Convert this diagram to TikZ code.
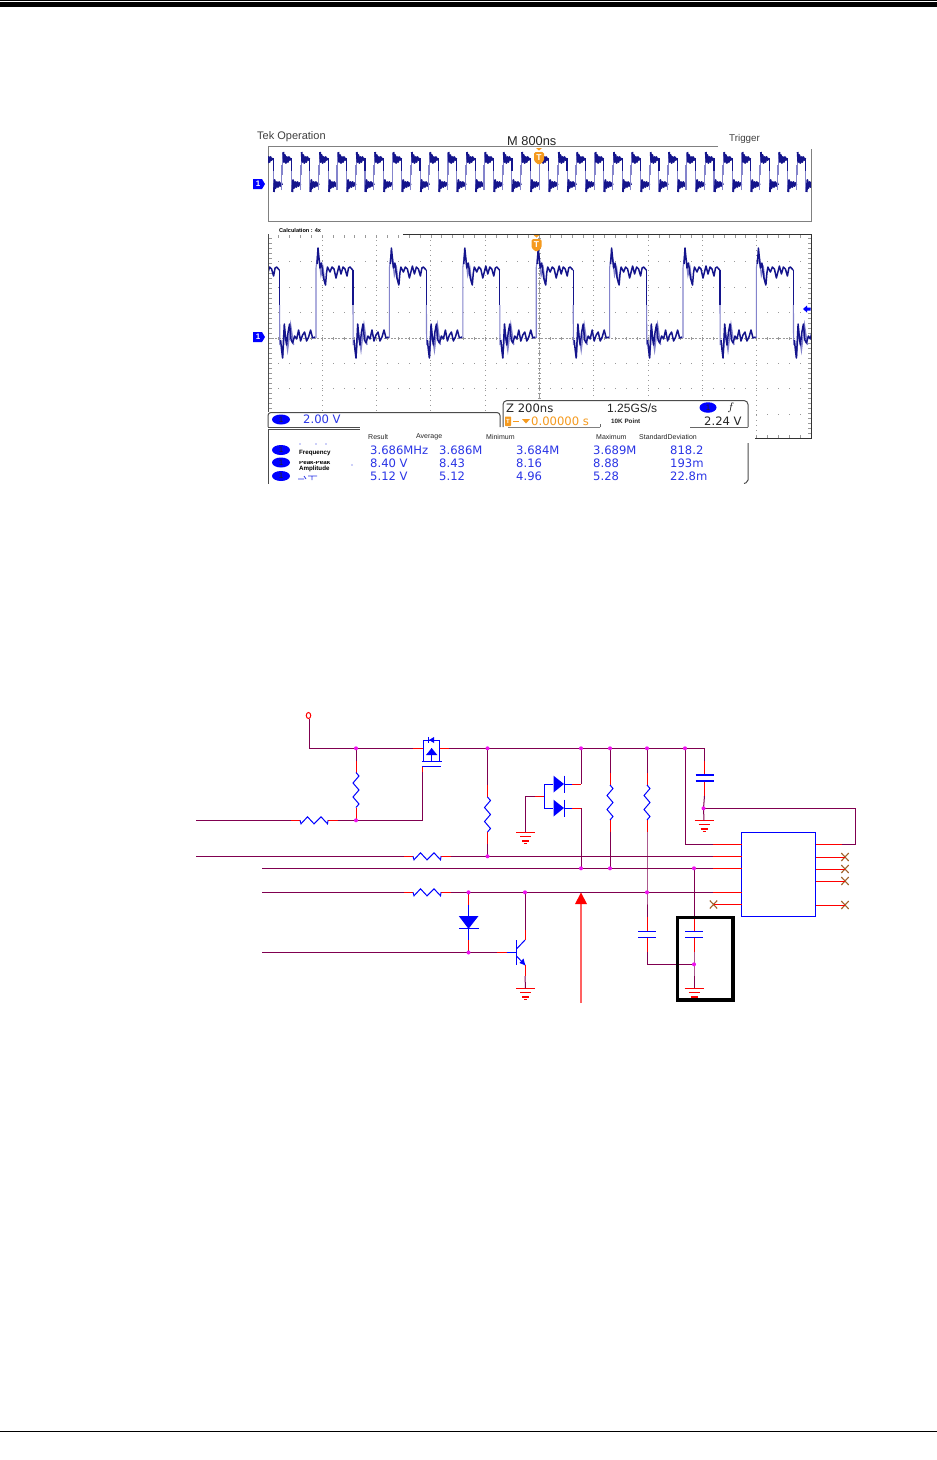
\documentclass[tikz,border=0pt]{standalone}
\usepackage{fontspec}
\setmainfont{Liberation Sans}
\newfontfamily\tekf{DejaVu Sans}
\usetikzlibrary{shapes.geometric}
\definecolor{wirec}{HTML}{800050}
\definecolor{compc}{HTML}{0000FF}
\definecolor{navyw}{HTML}{14148C}
\definecolor{lightw}{HTML}{8484CC}
\definecolor{tekblue}{HTML}{2A35E6}
\definecolor{tekor}{HTML}{F59A1E}
\definecolor{gridc}{HTML}{999999}
\definecolor{xc}{HTML}{A0622A}
\definecolor{magj}{HTML}{EE10EE}
\tikzset{
 wire/.style={draw=wirec,line width=1pt},
 stub/.style={draw=red,line width=1pt},
 comp/.style={draw=compc,line width=1pt},
 darkw/.style={draw=navyw,line width=1.9pt,line join=round},
 edgew/.style={draw=lightw,line width=1.1pt},
 frameg/.style={draw=gray,line width=1pt},
 framed/.style={draw=black!70,line width=1pt},
 lab/.style={inner sep=0pt,anchor=west,text=black!75},
 valtxt/.style={inner sep=0pt,anchor=west,text=tekblue,font=\tekf\fontsize{11.6}{12}\selectfont},
 smalltxt/.style={inner sep=0pt,anchor=west,text=black,font=\bfseries\fontsize{6.2}{7}\selectfont},
 headtxt/.style={inner sep=0pt,anchor=west,text=black!85,font=\fontsize{7}{8}\selectfont},
 oval/.style={ellipse,fill=compc,draw=none,minimum width=18pt,minimum height=10pt,inner sep=0pt,text=black!85,font=\fontsize{8}{8}\selectfont},
}
\newcommand{\ckJ}[3]{\coordinate (#1) at (#2,#3);}
\newcommand{\ckDot}[1]{\fill[magj] (#1) circle (2pt);}
\newcommand{\ckRH}[3]{%
 \coordinate (#1) at (#2,#3);
 \coordinate (#1-l) at ([xshift=-23.5pt]#1);
 \coordinate (#1-r) at ([xshift=23.5pt]#1);
 \draw[stub] (#1-l) -- ([xshift=-14pt]#1);
 \draw[stub] ([xshift=14pt]#1) -- (#1-r);
 \draw[comp,shift={(#1)}] (-14,0) -- (-13,3.5) -- (-6.5,-3.5) -- (0,3.5) -- (7,-3.5) -- (13.5,3.5) -- (14,0);}
\newcommand{\ckRV}[3]{%
 \coordinate (#1) at (#2,#3);
 \coordinate (#1-t) at ([yshift=29.5pt]#1);
 \coordinate (#1-b) at ([yshift=-29.5pt]#1);
 \draw[stub] (#1-t) -- ([yshift=17.5pt]#1);
 \draw[stub] ([yshift=-17.5pt]#1) -- (#1-b);
 \draw[comp,shift={(#1)}] (0,-17.5) -- (3,-14) -- (-3,-7) -- (3,0) -- (-3,7) -- (3,14) -- (0,17.5);}
\newcommand{\ckC}[4]{%
 \coordinate (#1) at (#2,#3);
 \coordinate (#1-t) at ([yshift=17pt]#1);
 \coordinate (#1-b) at ([yshift=-18pt]#1);
 \draw[stub] (#1-t) -- ([yshift=3pt]#1);
 \draw[stub] ([yshift=-3pt]#1) -- (#1-b);
 \draw[compc,line width=#4] ([xshift=-9pt,yshift=3pt]#1) -- ([xshift=9pt,yshift=3pt]#1);
 \draw[compc,line width=#4] ([xshift=-9pt,yshift=-3pt]#1) -- ([xshift=9pt,yshift=-3pt]#1);}
\newcommand{\ckG}[3]{%
 \coordinate (#1) at (#2,#3);
 \begin{scope}[shift={(#1)}]
 \draw[stub] (-9.5,0) -- (9.5,0);
 \draw[stub] (-5.5,4) -- (5.5,4);
 \draw[red,line width=2pt] (-3.5,8.5) -- (3.5,8.5);
 \draw[red,line width=1pt] (-1.5,11.5) -- (1.5,11.5);
 \end{scope}}
\newcommand{\ckX}[3]{%
 \coordinate (#1) at (#2,#3);
 \draw[xc,line width=1.1pt,shift={(#1)}] (-3.7,-4) -- (3.7,4) (-3.7,4) -- (3.7,-4);}
\newcommand{\ckTmark}[3]{%
 \fill[tekor] (#2-3,#3-10) -- (#2+3,#3-10) -- (#2,#3-7.5) -- cycle;
 \fill[tekor,rounded corners=1.5pt] (#2-5,#3-6) -- (#2+5,#3-6) -- (#2+5,#3+3) -- (#2,#3+7) -- (#2-5,#3+3) -- cycle;
 \node[inner sep=0pt,text=white,font=\bfseries\fontsize{8.5}{9}\selectfont] (#1) at (#2,#3) {T};}
\newcommand{\ckChan}[3]{%
 \fill[compc] (#2-6,#3-5) -- (#2+3,#3-5) -- (#2+6,#3) -- (#2+3,#3+5) -- (#2-6,#3+5) -- cycle;
 \node[inner sep=0pt,text=white,font=\bfseries\fontsize{8}{8}\selectfont] (#1) at (#2-1,#3) {1};}
\begin{document}
\begin{tikzpicture}[x=1pt,y=-1pt]
\useasboundingbox (0,0) rectangle (937,1460);
\fill[white] (0,0) rectangle (937,1460);
% page rules
\fill[black] (0,0) rectangle (937,1);
\fill[black] (0,2) rectangle (937,7);
\fill[black] (0,1430.6) rectangle (937,1431.8);

%==== scope top panel
\node[lab,font=\fontsize{11}{12}\selectfont] (tekop) at (257,137) {Tek Operation};
\node[lab,font=\fontsize{12.8}{13}\selectfont,text=black!85] (mtime) at (507,141.5) {M 800ns};
\node[lab,font=\fontsize{9.8}{10}\selectfont] (trigl) at (729,139) {Trigger};
\draw[frameg] (718,146.5) -- (268,146.5) -- (268,221) -- (811,221) -- (811,149);
\begin{scope}
\clip (268,146) rectangle (811,221);
\foreach \k in {-1,...,29}{
 \begin{scope}[xshift=282.7pt+\k*18.37pt]
 \draw[edgew] (-.8,190) -- (-.8,165);
 \draw[edgew] (0,175) -- (0,153);
 \draw[edgew] (8.8,165) -- (8.8,192);
 \draw[darkw] (0.6,152) -- (1.2,162) -- (2.2,155) -- (3.2,163) -- (4.2,157) -- (5.2,162) -- (6.2,157) -- (7.2,160) -- (8.3,158);
 \draw[navyw,line width=1.2pt] (8.8,158) -- (8.8,171);
 \draw[darkw] (9.6,192) -- (10.3,180) -- (11.3,188) -- (12.5,182) -- (13.6,187) -- (14.8,182) -- (15.8,186) -- (17,183) -- (17.6,185);
 \end{scope}}
\end{scope}

%==== lower panel grid
\foreach \k in {1,...,9}{
 \foreach \j in {0,...,39}{
  \fill[gridc] (268+\k*54.3-.5,240+\j*5-.5) rectangle +(1,1);}}
\foreach \r in {-3,...,3}{
 \foreach \k in {0,...,50}{
  \fill[gridc] (268+\k*10.86-.5,338+\r*25.4-.5) rectangle +(1,1);}}
\foreach \j in {0,...,40}{
 \fill[gridc] (269,238+\j*5-.4) rectangle +(2.5,.8);
 \fill[gridc] (807.5,238+\j*5-.4) rectangle +(3,.8);
 \fill[gridc] (537.5,238+\j*5-.4) rectangle +(3,.8);}
\foreach \k in {0,...,50}{
 \fill[gridc] (268+\k*10.86-.4,235) rectangle +(.8,3);
 \fill[gridc] (268+\k*10.86-.4,336.5) rectangle +(.8,3);
 \fill[gridc] (268+\k*10.86-.4,435) rectangle +(.8,3);}
\draw[gridc,line width=.6pt,dash pattern=on 2pt off 1.5pt] (268,338) -- (811,338);
\draw[gridc,line width=.6pt,dash pattern=on 2pt off 1.5pt] (539,235) -- (539,400);

%==== lower panel trace
\begin{scope}
\clip (268,235) rectangle (811,400);
\foreach \k in {-1,...,6}{
 \begin{scope}[xshift=316pt+\k*73.4pt]
 \draw[edgew] (0,338) -- (0,268) -- (1.5,255);
 \draw[edgew,line width=1.4pt] (3,258) -- (5,275) -- (7,268) -- (9,284);
 \draw[draw=navyw,line width=1.5pt,line join=round] (1,264) -- (2,248) -- (3,258) -- (4,268) -- (5.5,263) -- (7.5,278) -- (9.5,285) -- (10.5,273) -- (11.5,267) -- (14,272) -- (16,267) -- (18,269) -- (20,278) -- (21.5,272) -- (23,266) -- (25,274) -- (27,267) -- (29,269) -- (31,276) -- (32.5,268) -- (34,267) -- (36.7,270);
 \draw[navyw,line width=1.3pt] (37,270) -- (37,305);
 \draw[edgew] (37,305) -- (37.2,345);
 \draw[edgew,line width=1.4pt] (40,358) -- (42,330) -- (45,350) -- (48,325) -- (51,345);
 \draw[draw=navyw,line width=1.5pt,line join=round] (38,340) -- (39,350) -- (40,358) -- (41,338) -- (41.7,324) -- (43,338) -- (44,345) -- (45.5,332) -- (47,324) -- (48.5,340) -- (50,343) -- (52,336) -- (54,339) -- (56,330) -- (58,341) -- (60,335) -- (62,332) -- (64,341) -- (66,337) -- (68,330) -- (70,338) -- (72.6,337);
 \end{scope}}
\end{scope}

% masks
\fill[white] (262,412) rectangle (755,492);
\fill[white] (503,400) rectangle (755,412);
\fill[white] (268.5,222) rectangle (403,234);
% lower panel frame
\draw[framed] (268,234) -- (268,412);
\draw[draw=black!80,line width=1pt] (403,234.5) -- (811,234.5) -- (811,438.5) -- (755,438.5);
\node[smalltxt,font=\bfseries\fontsize{5.6}{6}\selectfont] (calc) at (279,230) {Calculation : 4x};

% markers
\ckTmark{tmarkA}{539}{158}
\ckTmark{tmarkB}{536.5}{245}
\ckChan{chA}{259}{184}
\ckChan{chB}{259}{337}
\fill[compc] (803,309) -- (807,305.5) -- (807,307.5) -- (810.5,307.5) -- (810.5,310.5) -- (807,310.5) -- (807,312.5) -- cycle;

% status box
\draw[draw=black!70,line width=1pt,rounded corners=3pt] (268,427) -- (268,412.5) -- (500,412.5) -- (500,427);
\draw[draw=black!70,line width=.8pt] (268,427.2) -- (360,427.2);
\draw[draw=black!70,line width=.8pt] (268,429) -- (360,429);
\node[oval] (ovalS) at (281,419.5) {1};
\node[valtxt] (volts) at (303,419.5) {2.00 V};

% timebase box
\draw[draw=black!70,line width=1pt,rounded corners=4pt] (503,427) -- (503,400.5) -- (748,400.5) -- (748,427);
\draw[draw=gray,line width=.8pt] (508,427.3) -- (600,427.3);
\draw[draw=black!60,line width=.8pt] (600,427.3) -- (600,424);
\draw[draw=black!60,line width=.8pt] (690,427.3) -- (748,427.3);
\node[valtxt,text=black!85] (zoomt) at (506,408) {Z 200ns};
\node[valtxt,text=black!85,font=\fontsize{12}{12}\selectfont] (rate) at (607,408) {1.25GS/s};
\node[oval,minimum width=17pt,minimum height=10.5pt] (ovalT) at (708,407.5) {1};
\node[inner sep=0pt,font=\bfseries\itshape\fontsize{11}{12}\selectfont] (slope) at (731,407.5) {$f$};
\fill[tekor,rounded corners=.7pt] (505,416.5) rectangle (511,426);
\node[inner sep=0pt,text=white,font=\bfseries\fontsize{6}{6}\selectfont] (tsmall) at (508,421) {T};
\draw[tekor,line width=.8pt] (513,421) -- (519,421);
\fill[tekor] (522,419) -- (530,419) -- (526,423.5) -- cycle;
\node[valtxt,text=tekor] (tzero) at (531,421) {0.00000 s};
\node[headtxt,font=\bfseries\fontsize{6.3}{7}\selectfont] (points) at (611,421) {10K Point};
\node[valtxt,text=black!85] (level) at (704,421) {2.24 V};

% measurement box
\draw[draw=black!70,line width=1pt,rounded corners=3pt] (268,429) -- (268,483.5);
\draw[draw=black!70,line width=1pt,rounded corners=2pt] (748,443) -- (748,482) -- (744,483.5);
\node[headtxt] (hresult) at (368,436.5) {Result};
\node[headtxt] (havg) at (416,436.5) {Average};
\node[headtxt] (hmin) at (486,436.5) {Minimum};
\node[headtxt] (hmax) at (596,436.5) {Maximum};
\node[headtxt] (hstd) at (639,436.5) {StandardDeviation};
\node[oval] (ovalA) at (281,450) {1};
\node[oval] (ovalB) at (281,462.5) {1};
\node[oval] (ovalC) at (281,476) {1};
\node[smalltxt] (mfreq) at (299,453.5) {Frequency};
\node[smalltxt] (mpp) at (299,462) {Peak-Peak};
\fill[white] (296,455.8) rectangle (340,461);
\node[smalltxt] (mamp) at (299,468.5) {Amplitude};
\fill[tekblue] (300,444) circle (.6pt) (316,444) circle (.6pt) (326,444) circle (.6pt) (352,465) circle (.6pt);
\draw[tekblue,line width=.7pt] (298,479) -- (304,479) (304,476) -- (306,479) (308,476) -- (317,476) (312,476) -- (312,480);
\foreach \nm/\xx/\tx in {a/370/3.686MHz,b/439/3.686M,c/516/3.684M,d/593/3.689M,e/670/818.2}{
 \node[valtxt] (va\nm) at (\xx,450) {\tx};}
\foreach \nm/\xx/\tx in {a/370/8.40 V,b/439/8.43,c/516/8.16,d/593/8.88,e/670/193m}{
 \node[valtxt] (vb\nm) at (\xx,463) {\tx};}
\foreach \nm/\xx/\tx in {a/370/5.12 V,b/439/5.12,c/516/4.96,d/593/5.28,e/670/22.8m}{
 \node[valtxt] (vc\nm) at (\xx,476.5) {\tx};}
\fill[white] (362,482) rectangle (742,490);

%==== circuit: named points
\ckJ{term}{309}{719}
\ckJ{railA}{309}{748.3}
\ckJ{jA}{356}{748.3}
\ckJ{jB}{487.5}{748.3}
\ckJ{jC}{581}{748.3}
\ckJ{jD}{610}{748.3}
\ckJ{jE}{647}{748.3}
\ckJ{jF}{685}{748.3}
\ckJ{railEnd}{704.5}{748.3}
\ckJ{jG}{356}{820.3}
\ckJ{gateC}{422.3}{820.3}
\ckJ{gateT}{422.3}{772}
\ckJ{gatePin}{422.3}{766.5}
\ckJ{lineAs}{196}{820.3}
\ckJ{lineBs}{196}{856.3}
\ckJ{lineCs}{262}{868.3}
\ckJ{lineDs}{262}{892.3}
\ckJ{lineEs}{262}{952.5}
\ckJ{jH}{487.5}{856.3}
\ckJ{jI}{581}{868.3}
\ckJ{jK}{610}{868.3}
\ckJ{jL}{694}{868.3}
\ckJ{jM}{468.5}{892.3}
\ckJ{jN}{525}{892.3}
\ckJ{jO}{647}{892.3}
\ckJ{jP}{468.5}{952.5}
\ckJ{jQ}{694}{964.3}
\ckJ{jR}{703.5}{808.3}
\ckJ{capbend}{647}{964.3}
\ckJ{fbA}{855}{808.3}
\ckJ{fbB}{855}{844.3}
\ckJ{vddB}{685}{844.3}

% resistors
\ckRH{r1}{314}{820.3}
\ckRH{r2}{427}{856.3}
\ckRH{r3}{427}{892.3}
\ckRV{r4}{356}{790}
\ckRV{r5}{487.5}{814.5}
\ckRV{r6}{610}{802.5}
\ckRV{r7}{647}{802.5}
% capacitors
\ckC{c1}{704.5}{778}{2.2pt}
\ckC{c2}{647}{934}{1pt}
\ckC{c3}{694}{934}{1pt}
% grounds
\ckG{g1}{525.5}{832.3}
\ckG{g2}{525.5}{988.3}
\ckG{g3}{694}{988.3}
\ckG{g4}{704}{820.3}

% top wires
\draw[wire] (term) -- (railA) -- (jA) -- (413,748.3);
\draw[wire] (449,748.3) -- (jB) -- (jC) -- (jD) -- (jE) -- (jF) -- (railEnd) -- (c1-t);
\draw[wire] (jA) -- (r4-t);
\draw[wire] (r4-b) -- (jG);
\draw[wire] (lineAs) -- (r1-l);
\draw[wire] (r1-r) -- (jG) -- (gateC) -- (gateT);
\draw[stub] (gateT) -- (gatePin);
\draw[wire] (lineBs) -- (r2-l);
\draw[wire] (r2-r) -- (jH) -- (713,856.3);
\draw[wire] (lineCs) -- (jI) -- (jK) -- (jL) -- (713,868.3);
\draw[wire] (lineDs) -- (r3-l);
\draw[wire] (r3-r) -- (jM) -- (jN) -- (jO) -- (713,892.3);
\draw[wire] (lineEs) -- (jP) -- (497,952.5);
\draw[wire] (jB) -- (r5-t);
\draw[wire] (r5-b) -- (jH);
\draw[wire] (jD) -- (r6-t);
\draw[wire] (r6-b) -- (jK);
\draw[wire] (jE) -- (r7-t);
\draw[wire] (r7-b) -- (jO) -- (c2-t);
\draw[wire] (c2-b) -- (capbend) -- (jQ);
\draw[wire] (jL) -- (c3-t);
\draw[wire] (c3-b) -- (jQ) -- (g3);
\draw[wire] (c1-b) -- (jR) -- (g4);
\draw[wire] (jR) -- (fbA) -- (fbB) -- (842,844.3);
\draw[wire] (jF) -- (vddB) -- (713,844.3);
\draw[wire] (jC) -- (581,784);
\draw[wire] (581,808) -- (jI);
\draw[wire] (jN) -- (525,930);
\draw[wire] (525,976) -- (g2);
\draw[wire] (525.5,796) -- (535,796);
\draw[wire] (525.5,796) -- (g1);
\draw[wire] (jM) -- (468.5,905) (468.5,940) -- (jP);

% MOSFET
\draw[stub] (413,748.3) -- (423,748.3);
\draw[stub] (439,748.3) -- (449,748.3);
\draw[comp] (423,761.5) -- (423,740) -- (439,740) -- (439,761.5);
\draw[comp] (421.7,761.5) -- (441.5,761.5);
\draw[comp] (422,766.5) -- (441,766.5);
\draw[comp] (431.7,748) -- (431.7,761.5);
\fill[compc] (431.7,748) -- (437.3,755) -- (426,755) -- cycle;
\fill[compc] (429,740) -- (434,737) -- (434,743) -- cycle;
\draw[comp] (428.8,736.8) -- (428.8,743.2);

% diode pair
\draw[stub] (572,784) -- (581,784);
\draw[stub] (572,808) -- (581,808);
\draw[comp] (564,784) -- (572,784);
\draw[comp] (564,808) -- (572,808);
\draw[comp] (553,784) -- (544,784) -- (544,808) -- (553,808);
\fill[compc] (553.5,775.7) -- (564,784) -- (553.5,792.5) -- cycle;
\fill[compc] (553.5,799.7) -- (564,808) -- (553.5,816.5) -- cycle;
\draw[comp] (564,775.7) -- (564,792.5);
\draw[comp] (564,799.7) -- (564,816.5);
\draw[stub] (535,796) -- (544,796);

% vertical diode
\draw[stub] (468.5,895) -- (468.5,905);
\draw[comp] (468.5,905) -- (468.5,916);
\fill[compc] (458.8,916) -- (478.5,916) -- (468.5,928.8) -- cycle;
\draw[comp] (458.8,928.8) -- (478.5,928.8);
\draw[comp] (468.5,929) -- (468.5,940);
\draw[stub] (468.5,940) -- (468.5,950);

% transistor
\draw[stub] (497,952.5) -- (507,952.5);
\draw[comp] (507,952.5) -- (516.5,952.5);
\draw[comp] (516.5,940) -- (516.5,965);
\draw[comp] (516.5,949) -- (525,940);
\draw[comp] (516.5,956) -- (525,965);
\fill[compc] (525.3,965.3) -- (519.5,963) -- (523.5,958.5) -- cycle;
\draw[stub] (525,940) -- (525,930);
\draw[stub] (525,965) -- (525,976);

% IC
\node[draw=compc,line width=1pt,minimum width=74.5pt,minimum height=83.5pt,inner sep=0pt] (ic) at (778.7,874.3) {};
\draw[stub] (713,844.3) -- (741.5,844.3);
\draw[stub] (713,856.3) -- (741.5,856.3);
\draw[stub] (713,868.3) -- (741.5,868.3);
\draw[stub] (713,892.3) -- (741.5,892.3);
\ckX{xl}{713.5}{904.5}
\draw[stub] (xl) -- (741.5,904.5);
\draw[stub] (816,844.3) -- (842,844.3);
\ckX{xa}{845}{857}
\ckX{xb}{845}{869}
\ckX{xc}{845}{881}
\ckX{xd}{845}{905}
\draw[stub] (816,857) -- (xa);
\draw[stub] (816,869) -- (xb);
\draw[stub] (816,881) -- (xc);
\draw[stub] (816,905) -- (xd);

% box around cap
\node[draw=black,line width=3.6pt,minimum width=55.5pt,minimum height=82.5pt,inner sep=0pt] (hbox) at (705.3,958.7) {};

% red arrow
\coordinate (arrA) at (581,1003);
\coordinate (arrB) at (581,904);
\draw[draw=red!62,line width=2pt] (arrA) -- (arrB);
\fill[red] (581,892.5) -- (587,904) -- (575,904) -- cycle;

% terminal
\node[draw=red,line width=1pt,ellipse,minimum width=4.5pt,minimum height=6pt,inner sep=0pt] (tcirc) at (308.5,715.5) {};

% junction dots
\foreach \p in {jA,jB,jC,jD,jE,jF,jG,jH,jI,jK,jL,jM,jN,jO,jP,jQ,jR}{\ckDot{\p}}
\end{tikzpicture}
\end{document}
